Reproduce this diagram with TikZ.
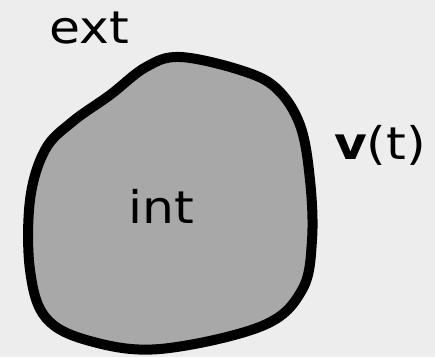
\documentclass[tikz,border=0pt]{standalone}
\usepackage{fontspec}
\setmainfont{DejaVu Sans}[FakeStretch=1.12]
\usepackage{xcolor}
\usepackage{tikz}
\definecolor{bggray}{HTML}{EDEDED}
\definecolor{regiongray}{HTML}{A8A8A8}
\tikzset{
 region/.style={fill=regiongray,draw=black,line width=10pt,line join=round},
 tag/.style={rectangle,inner sep=0pt,draw=none,fill=none,
   font=\fontsize{45}{50}\selectfont}}

\begin{document}
\begin{tikzpicture}[x=1pt,y=-1pt]
      \fill[bggray] (0,0) rectangle (435,357);
      \useasboundingbox (0,0) rectangle (435,357);
      \draw[region] plot[smooth cycle,tension=0.6] coordinates {
        (180,57) (240,70) (276,88) (300,125) (310,180) (312,240)
        (302,290) (262,326) (160,349) (90,341) (46,318) (30,270)
        (30,200) (45,150) (72,122) (110,95) (146,67)};
      \node[tag,anchor=base] (ext) at (89,43) {ext};
      \node[tag,anchor=base] (int) at (161,223) {int};
      \node[tag,anchor=base] (curve) at (380,159) {\textbf{v}(t)};
\end{tikzpicture}
\end{document}
